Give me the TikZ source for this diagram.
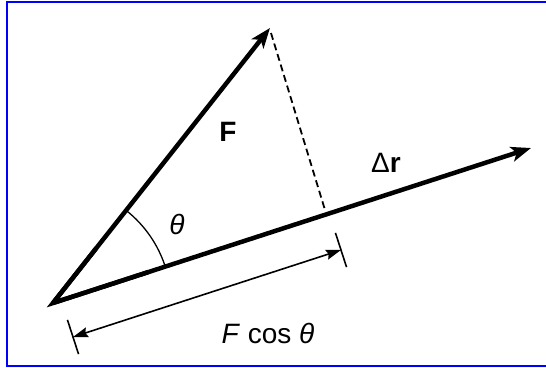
\documentclass[tikz,border=0pt]{standalone}
\usepackage{fontspec}
\setmainfont{Liberation Sans}
\usetikzlibrary{arrows.meta,calc}
\begin{document}
\begin{tikzpicture}[x=1pt,y=-1pt,
  vec/.style={line width=4.5pt,-{Stealth[length=20pt,width=15pt,inset=5pt]}},
  dimline/.style={line width=1.6pt,{Stealth[length=15pt,width=10pt,inset=2pt]}-{Stealth[length=15pt,width=10pt,inset=2pt]}},
  thin/.style={line width=1.6pt},
  lbl/.style={font=\fontsize{28}{32}\selectfont,inner sep=0pt}]
\useasboundingbox (0,0) rectangle (546,367);
\draw[blue,line width=2pt] (546,2) -- (7,2) -- (7,365.8) -- (546,365.8);
% points
\coordinate (O) at (53,303);
\coordinate (Ftip) at (270,28);
\coordinate (Rtip) at (531,148);
\coordinate (Dtop) at (271,33);
\coordinate (Dfoot) at (325,210);
\coordinate (D1) at (73,337);
\coordinate (D2) at (341,250);
% dashed projection
\draw[line width=1.8pt,dash pattern=on 7pt off 4pt] (Dtop) -- (Dfoot);
% vectors
\draw[vec] (O) -- (Ftip);
\draw[vec] (O) -- (Rtip);
\draw[line width=4.5pt,line join=miter,miter limit=20] ($(O)!0.2!(Ftip)$) -- (O) -- ($(O)!0.2!(Rtip)$);
% angle arc
\draw[line width=1.3pt] ($(O)+(-18:118)$) arc[start angle=-18,end angle=-51.7,radius=118];
% dimension
\draw[dimline] (D1) -- (D2);
\draw[thin] ($(D1)!18pt!90:(D2)$) -- ($(D1)!18pt!-90:(D2)$);
\draw[thin] ($(D2)!18pt!90:(D1)$) -- ($(D2)!18pt!-90:(D1)$);
% labels
\node[lbl] (lF) at (228,132) {\textbf{F}};
\node[lbl] (lR) at (386,163) {Δ\textbf{r}};
\node[lbl] (lth) at (177,224) {\textit{θ}};
\node[lbl] (lFc) at (268,333) {\textit{F} cos \textit{θ}};
\end{tikzpicture}
\end{document}
